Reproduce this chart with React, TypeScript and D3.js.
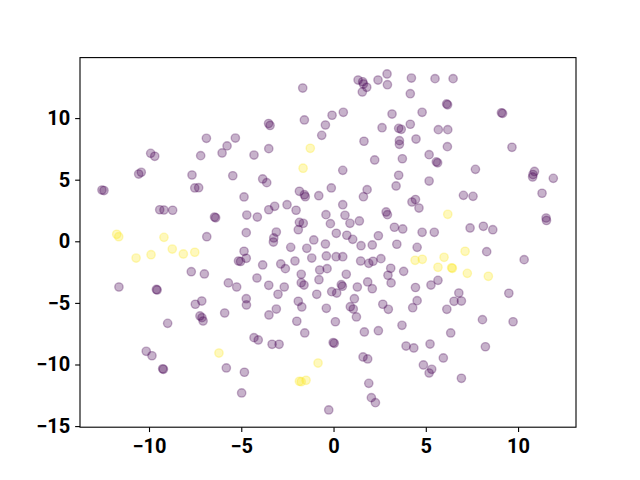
import React, { useEffect, useRef } from "react";
import * as d3 from "d3";

const purpleX = [
  -6.89, -5.32, -5.77, -6.04, -7.2, -9.91, -9.69, -10.42, -10.56, -7.67, -5.46,
  -1.67, 1.33, 1.58, 1.62, 1.8, 1.56, 2.41, 2.9, 2.92, 4.22, 4.16,
  -3.52, -3.44, -1.58, -0.08, 0.53, -0.44, -0.64, 3.17, 2.63, 3.53, 3.67, 4.16,
  3.57, 3.57, 4.47, 1.65, 2.23, 3.73, 3.53, 0.5, -3.51, -4.31, -3.84, -3.62,
  5.5, 6.48, 6.13, 6.18, 9.1, 9.16, 4.8, 5.68, 6.19, 6.17, 9.67, 5.18, 5.57, 5.64,
  7.69, 10.89, 10.81, 10.79, 11.91, 5.18, -12.55, -12.44, -7.52, -7.31, -4.85,
  -4.7, -4.73, -4.85, -5.15, -5.04, -4.73, -9.42, -9.19, -8.72, -6.45, -6.39,
  -6.87, -7.71, -7.0, -11.63, -9.6, -9.56, -5.7, -5.25, -4.73, -4.72, -7.14,
  -7.49, -7.24, -7.13, -7.07, -8.99, -5.9, -10.15, -9.84, -9.26, -9.22, -5.81,
  -4.83, -4.98,
  -1.85, -1.58, -1.53, -0.8, -0.12, 1.82, 1.62, 3.39, 4.25, 4.44, 2.85, 2.92,
  0.5, -0.41, -0.17, 0.62, 0.89, 1.4, -4.13, -3.51, -3.19, -2.52, -2.03, -1.85,
  -1.64, -1.91, -3.1, -3.24, -3.26, -1.07, -2.32, -1.45, -0.44, 0.15, 0.72, 1.04,
  1.49, 2.1, 2.43, 3.3, 3.75, 3.43, 4.53, -3.84, -2.86, -2.61, -2.09, -1.18,
  -0.39, 0.14, 0.5, 1.47, 1.91, 2.14, 2.57, 3.1, 3.8, 2.95, 3.12, -0.75, -0.35,
  -1.75, 0.69, -4.15, -3.51, -2.67, -3.01, -1.75, -1.6, -0.79, -0.91, -0.1, 0.17,
  0.42, 0.48, 1.29, 1.85, 2.1, 1.13, -1.91, 4.44,
  7.04, 7.56, 11.3, 11.52, 11.54, 4.63, 4.8, 5.46, 7.4, 8.12, 8.63, 8.3, 10.33,
  5.28, 5.66, 6.79, 9.5, 6.53, 6.93, 4.53, 4.29,
  -3.5, -3.1, -1.72, -0.39, 0.91, 1.07, 1.24, 2.67, 2.97, -1.99, 0.1, -1.56,
  1.67, 2.43, 3.71, -4.31, -4.08, -3.33, -2.95, -0.02, 0.04, 3.93, 4.35, 1.6,
  1.85, 1.91, 2.05, 2.27, -0.26,
  6.14, 8.07, 9.73, 6.35, 5.23, 5.95, 8.23, 4.87, 5.32, 5.18, 6.93,
];
const purpleY = [
  8.36, 8.38, 7.74, 7.17, 6.95, 7.14, 6.9, 5.6, 5.46, 5.38, 5.32,
  12.44, 13.09, 12.95, 12.77, 12.5, 12.12, 13.09, 13.58, 12.71, 13.25, 11.98,
  9.56, 9.4, 9.85, 10.23, 10.47, 9.44, 8.6, 10.33, 9.22, 9.17, 9.09, 9.5,
  8.17, 7.87, 8.3, 8.12, 6.6, 6.7, 5.36, 5.76, 7.52, 7.0, 5.06, 4.76,
  13.2, 13.2, 11.15, 11.08, 10.43, 10.38, 10.47, 9.06, 9.06, 7.68, 7.63, 7.03, 6.45, 6.37,
  5.84, 5.67, 5.42, 5.22, 5.11, 4.89, 4.16, 4.12, 4.33, 4.35, 3.6,
  2.13, 0.7, -0.81, -1.6, -1.64, -1.38, 2.56, 2.54, 2.52, 1.97, 1.91,
  0.37, -2.47, -2.65, -3.71, -3.91, -3.95, -3.38, -3.71, -4.66, -5.17, -4.85,
  -5.11, -6.06, -6.2, -6.47, -6.66, -5.82, -8.93, -9.29, -10.35, -10.39, -10.28,
  -10.63, -12.31,
  4.06, 3.78, 3.62, 3.7, 4.33, 4.19, 3.62, 4.49, 3.19, 3.39, 2.38, 2.16,
  2.97, 2.16, 1.43, 2.11, 1.46, 1.65, 1.97, 2.56, 2.84, 2.97, 2.52, 1.54,
  1.46, 0.94, 0.75, 0.27, -0.06, 0.11, -0.49, -0.57, -0.22, 0.65, 0.49, 0.16,
  -0.36, -0.3, 0.45, 1.14, 1.0, -0.24, -0.49, -1.92, -1.84, -2.22, -1.6, -1.36,
  -1.19, -1.25, -1.25, -1.6, -1.79, -1.62, -1.41, -2.19, -2.44, -2.76, -3.38, -2.33, -2.22,
  -2.68, -2.68, -2.98, -3.57, -3.71, -4.3, -3.36, -3.55, -3.12, -4.3, -4.09, -4.2,
  -3.52, -3.65, -3.71, -3.3, -3.85, -4.66, -4.87, -3.75,
  3.73, 3.65, 3.9, 1.89, 1.69, 2.7, 0.73, 0.73, 1.08, 1.22, 0.94, -0.84, -1.49,
  -3.55, -3.17, -4.2, -4.22, -4.87, -4.85, -4.82, -5.39,
  -5.98, -5.5, -5.33, -5.44, -5.31, -5.5, -6.14, -5.11, -5.52, -6.49, -6.53, -7.44,
  -7.36, -7.26, -6.82, -7.82, -8.01, -8.36, -8.36, -8.22, -8.28, -8.5, -8.66, -9.39,
  -9.55, -11.53, -12.69, -13.1, -13.69,
  -5.52, -6.36, -6.53, -7.44, -8.34, -9.47, -8.56, -10.04, -10.39, -10.69, -11.12,
];
const yellowX = [
  -1.26, -1.65, -11.75, -11.64, -9.19, -8.74, -8.14, -7.52, -9.89, -10.7, -6.21,
  4.42, 4.81, 6.19, 5.99, 5.66, 6.4, 6.44, 7.13, 7.25, 8.39, -0.84, -1.85, -1.49, -1.75,
];
const yellowY = [
  7.55, 5.93, 0.57, 0.37, 0.32, -0.63, -1.03, -0.89, -1.09, -1.36, -9.07,
  -1.54, -1.46, 2.19, -1.3, -2.11, -2.15, -2.19, -0.81, -2.6, -2.84, -9.88, -11.36, -11.28, -11.4,
];
const xTicks = [-10, -5, 0, 5, 10];
const yTicks = [-15, -10, -5, 0, 5, 10];
const xDomain = [-13.74, 13.14];
const yDomain = [-15.09, 14.91];

const PURPLE = "#440154";
const YELLOW = "#fde725";

export default function App() {
  const ref = useRef<SVGSVGElement>(null);
  useEffect(() => {
    document.body.style.margin = "0";
    const svg = d3.select(ref.current);
    svg.selectAll("*").remove();
    const L = 80, R = 576, T = 57.6, B = 427.2;
    const x = d3.scaleLinear().domain(xDomain).range([L, R]);
    const y = d3.scaleLinear().domain(yDomain).range([B, T]);

    const pts: { x: number; y: number; c: string }[] = [];
    purpleX.forEach((v, i) => pts.push({ x: v, y: purpleY[i], c: PURPLE }));
    yellowX.forEach((v, i) => pts.push({ x: v, y: yellowY[i], c: YELLOW }));

    const g = svg.append("g");
    g.selectAll("circle")
      .data(pts)
      .join("circle")
      .attr("cx", (d) => x(d.x))
      .attr("cy", (d) => y(d.y))
      .attr("r", 4.17)
      .attr("fill", (d) => d.c)
      .attr("fill-opacity", 0.3)
      .attr("stroke", (d) => d.c)
      .attr("stroke-opacity", 0.3)
      .attr("stroke-width", 1.39);

    const fmt = (d: any) => d3.format("d")(d);
    const xa = svg
      .append("g")
      .attr("transform", `translate(0,${B})`)
      .call(d3.axisBottom(x).tickValues(xTicks).tickSize(4.86).tickPadding(7).tickFormat(fmt));
    const ya = svg
      .append("g")
      .attr("transform", `translate(${L},0)`)
      .call(d3.axisLeft(y).tickValues(yTicks).tickSize(4.86).tickPadding(4.9).tickFormat(fmt));
    [xa, ya].forEach((a) => {
      a.select(".domain").remove();
      a.selectAll("line").attr("stroke", "#000").attr("stroke-width", 1.1);
      a.selectAll("text")
        .attr("fill", "#000")
        .style("font-family", "Roboto, 'Liberation Sans', sans-serif")
        .style("font-weight", "bold")
        .style("font-size", "20px");
    });
    svg
      .append("rect")
      .attr("x", L)
      .attr("y", T)
      .attr("width", R - L)
      .attr("height", B - T)
      .attr("fill", "none")
      .attr("stroke", "#000")
      .attr("stroke-width", 1.1);
  }, []);
  return (
    <svg
      ref={ref}
      width={640}
      height={480}
      style={{ position: "absolute", left: 0, top: 0, background: "#fff" }}
    />
  );
}
